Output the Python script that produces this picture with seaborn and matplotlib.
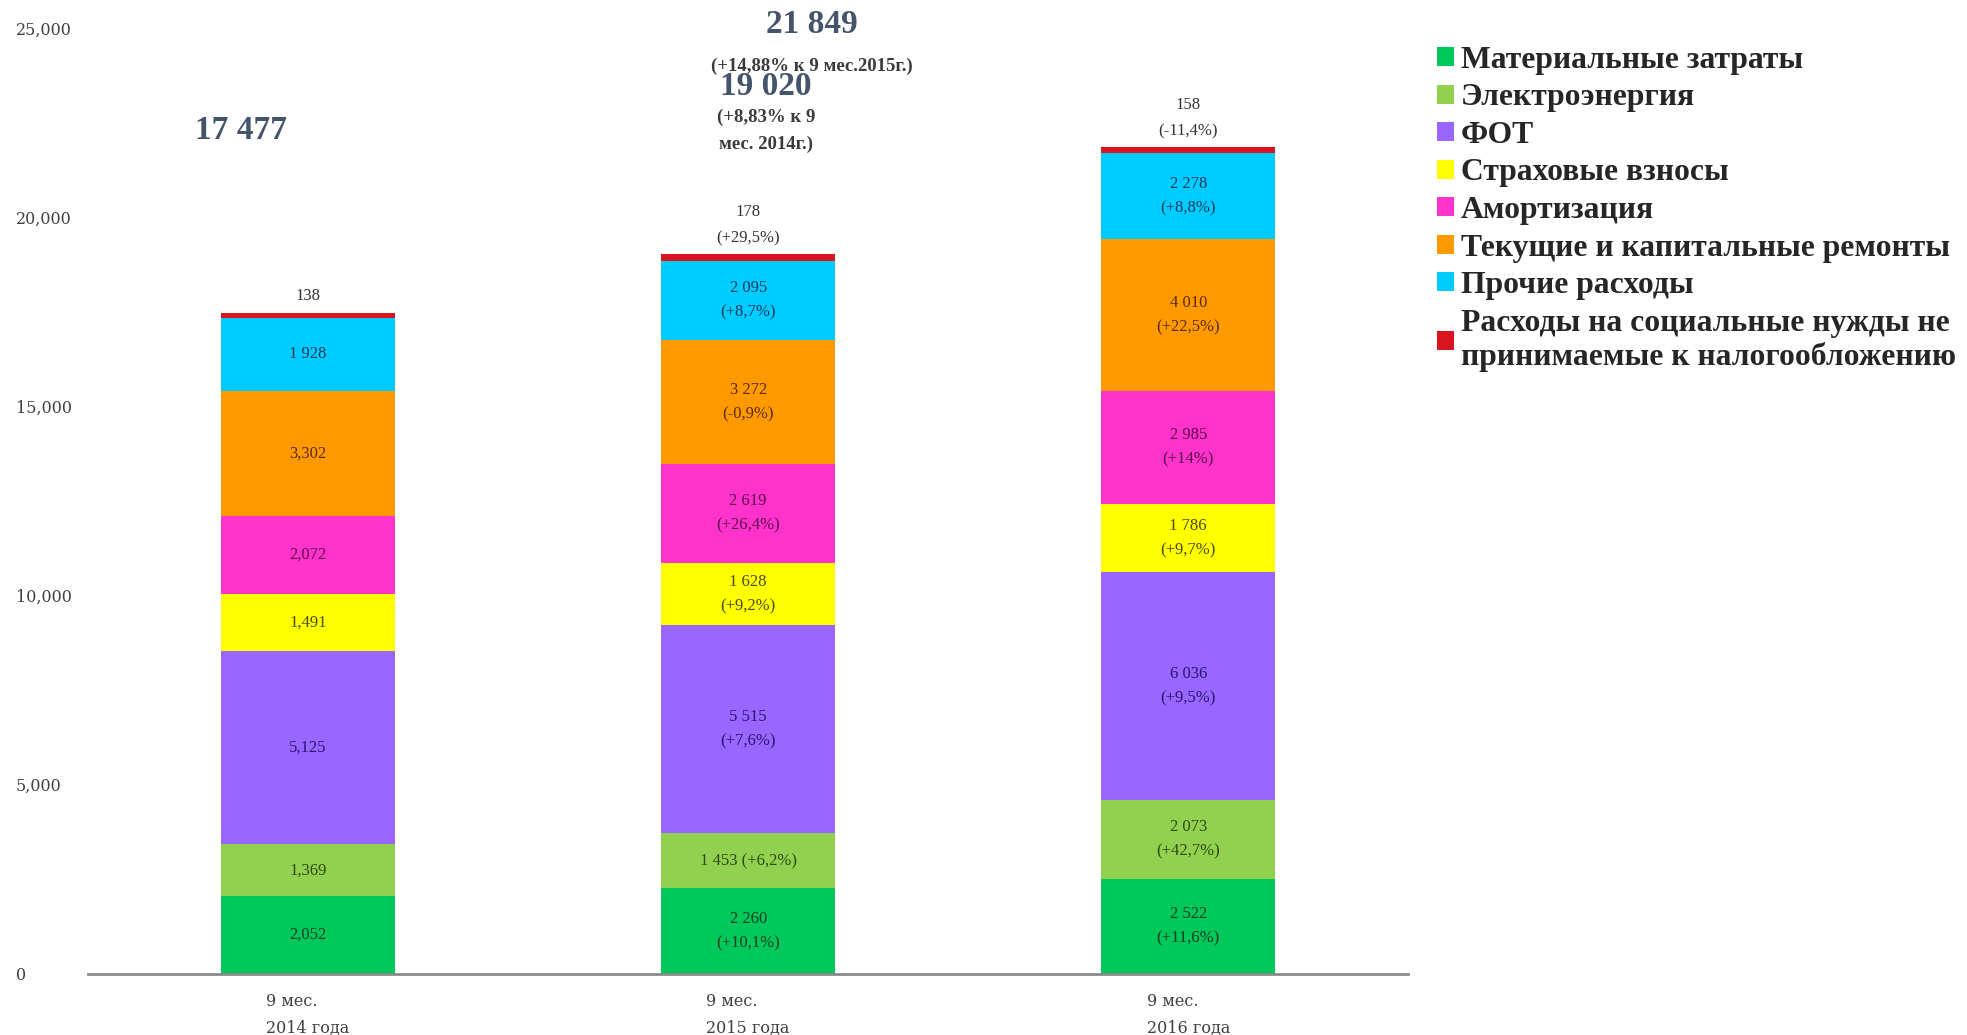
import numpy as np
import matplotlib
matplotlib.use("Agg")
import matplotlib.pyplot as plt
import seaborn as sns
from matplotlib.patches import Patch

# --- data ---
periods = ["9 мес.\n2014 года", "9 мес.\n2015 года", "9 мес.\n2016 года"]
categories = [
    "Материальные затраты",
    "Электроэнергия",
    "ФОТ",
    "Страховые взносы",
    "Амортизация",
    "Текущие и капитальные ремонты",
    "Прочие расходы",
    "Расходы на социальные нужды не\nпринимаемые к налогообложению",
]
vals_2014 = [2052, 1369, 5125, 1491, 2072, 3302, 1928, 138]
vals_2015 = [2260, 1453, 5515, 1628, 2619, 3272, 2095, 178]
vals_2016 = [2522, 2073, 6036, 1786, 2985, 4010, 2278, 158]

labels_2014 = ["2,052", "1,369", "5,125", "1,491", "2,072", "3,302", "1 928", "138"]
labels_2015 = ["2 260\n(+10,1%)", "1 453 (+6,2%)", "5 515\n(+7,6%)", "1 628\n(+9,2%)",
               "2 619\n(+26,4%)", "3 272\n(-0,9%)", "2 095\n(+8,7%)", "178\n(+29,5%)"]
labels_2016 = ["2 522\n(+11,6%)", "2 073\n(+42,7%)", "6 036\n(+9,5%)", "1 786\n(+9,7%)",
               "2 985\n(+14%)", "4 010\n(+22,5%)", "2 278\n(+8,8%)", "158\n(-11,4%)"]

totals = ["17 477", "19 020", "21 849"]
total_notes = ["", "(+8,83% к 9\nмес. 2014г.)", "(+14,88% к 9 мес.2015г.)"]

colors = ["#00C85A", "#92D050", "#9966FF", "#FFFF00", "#FF33CC", "#FF9900", "#00CCFF", "#D9141E"]
text_colors = ["#0b3d22", "#2f4a12", "#2a1670", "#4a4a00", "#5a0a48", "#5a2a00", "#0a3a5a", "#333333"]

sns.set_style("white")
plt.rcParams["font.family"] = ["Liberation Serif", "DejaVu Serif"]

values = np.array([vals_2014, vals_2015, vals_2016])  # periods x categories
cum = values.cumsum(axis=1)
seg_labels = [labels_2014, labels_2015, labels_2016]

fig, ax = plt.subplots(figsize=(19.67, 10.35), dpi=100)
fig.subplots_adjust(left=0.0447, right=0.716, bottom=0.059, top=0.973)

# stacked bars: draw cumulative totals from the top down
for k in range(len(categories) - 1, -1, -1):
    sns.barplot(x=periods, y=cum[:, k], color=colors[k], saturation=1,
                width=0.395, linewidth=0, ax=ax)

# labels inside / above segments
for i in range(len(periods)):
    for k in range(len(categories)):
        bottom = cum[i, k] - values[i, k]
        if k == len(categories) - 1:
            ax.text(i, cum[i, k] + 220, seg_labels[i][k], ha="center", va="bottom",
                    fontsize=12, color="#333333", linespacing=1.8)
        else:
            ax.text(i, bottom + values[i, k] / 2, seg_labels[i][k], ha="center",
                    va="center", fontsize=12, color=text_colors[k], linespacing=1.7)

# period totals
ax.text(-0.152, 22300, totals[0], ha="center", va="center", fontsize=24,
        fontweight="bold", color="#44546A")
ax.text(1.04, 23450, totals[1], ha="center", va="center", fontsize=24,
        fontweight="bold", color="#44546A")
ax.text(1.04, 22280, total_notes[1], ha="center", va="center", fontsize=13.5,
        fontweight="bold", color="#3a3a3a", linespacing=1.7)
ax.text(1.145, 25080, totals[2], ha="center", va="center", fontsize=24,
        fontweight="bold", color="#44546A")
ax.text(1.145, 23980, total_notes[2], ha="center", va="center", fontsize=13.5,
        fontweight="bold", color="#3a3a3a")

ax.set_ylim(0, 25000)
ax.set_xlim(-0.5, 2.5)
ax.set_yticks(np.arange(0, 25001, 5000))
ax.set_yticklabels([f"{v:,}" for v in range(0, 25001, 5000)],
                   family="DejaVu Serif", ha="left")
ax.tick_params(axis="y", length=0, pad=52, labelsize=11.5, labelcolor="#404040")
ax.tick_params(axis="x", length=0, pad=14, labelsize=11.5, labelcolor="#404040")
for lbl in ax.get_xticklabels():
    lbl.set_family("DejaVu Serif")
    lbl.set_linespacing(1.75)
    lbl.set_multialignment("left")
ax.set_xlabel("")
ax.set_ylabel("")
sns.despine(ax=ax, left=True)
ax.spines["bottom"].set_color("#8c8c8c")
ax.spines["bottom"].set_linewidth(2)

handles = [Patch(facecolor=c, edgecolor="none") for c in colors]
fig.legend(handles, categories, loc="upper left", bbox_to_anchor=(0.724, 0.968),
           frameon=False, handlelength=0.55, handleheight=0.55,
           handletextpad=0.2, labelspacing=0.27, borderaxespad=0,
           prop={"family": ["Liberation Serif"], "weight": "bold", "size": 22.8})

fig.savefig("out.png", dpi=100)
